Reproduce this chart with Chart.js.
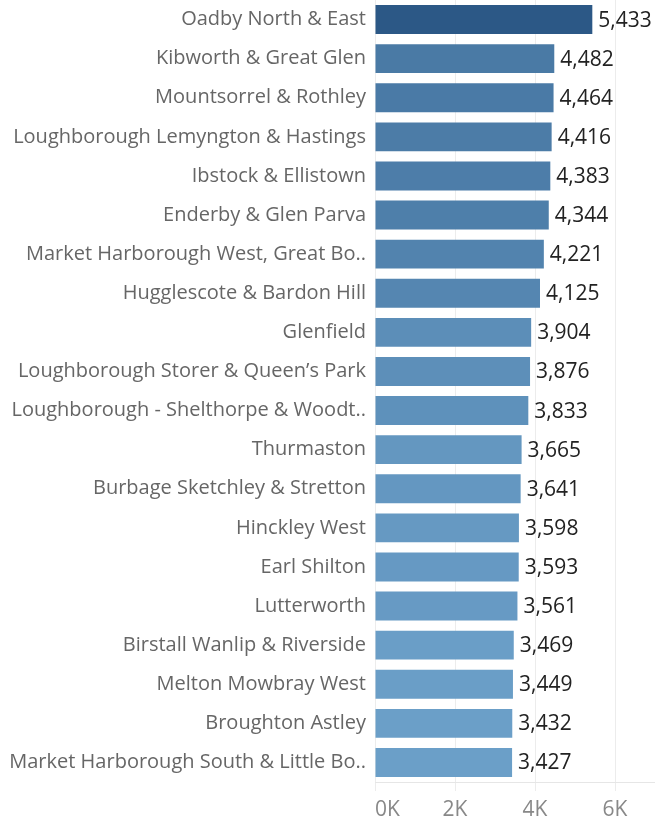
<!DOCTYPE html>
<html>
<head>
<meta charset="utf-8">
<script src="https://cdn.jsdelivr.net/npm/chart.js@4/dist/chart.umd.min.js"></script>
<style>
html,body{margin:0;padding:0;background:#fff;}
#wrap{width:655px;height:824px;}
</style>
</head>
<body>
<div id="wrap"><canvas id="c" width="655" height="824"></canvas></div>
<script>
const categories = [
  "Oadby North & East",
  "Kibworth & Great Glen",
  "Mountsorrel & Rothley",
  "Loughborough Lemyngton & Hastings",
  "Ibstock & Ellistown",
  "Enderby & Glen Parva",
  "Market Harborough West, Great Bo..",
  "Hugglescote & Bardon Hill",
  "Glenfield",
  "Loughborough Storer & Queen\u2019s Park",
  "Loughborough - Shelthorpe & Woodt..",
  "Thurmaston",
  "Burbage Sketchley & Stretton",
  "Hinckley West",
  "Earl Shilton",
  "Lutterworth",
  "Birstall Wanlip & Riverside",
  "Melton Mowbray West",
  "Broughton Astley",
  "Market Harborough South & Little Bo.."
];
const values = [5433, 4482, 4464, 4416, 4383, 4344, 4221, 4125, 3904, 3876, 3833, 3665, 3641, 3598, 3593, 3561, 3469, 3449, 3432, 3427];
const tickValues = [0, 2000, 4000, 6000];
const tickLabels = ["0K", "2K", "4K", "6K"];

const FONT = "'Open Sans', sans-serif";
const lo = [107, 159, 200], hi = [44, 88, 134];
const vmin = Math.min(...values), vmax = Math.max(...values);
function colorFor(v){
  const t = (v - vmin) / (vmax - vmin);
  const c = lo.map((a,i)=>Math.round(a + (hi[i]-a)*t));
  return `rgb(${c[0]},${c[1]},${c[2]})`;
}

const valueLabels = {
  id: 'valueLabels',
  afterDatasetsDraw(chart){
    const ctx = chart.ctx;
    const meta = chart.getDatasetMeta(0);
    ctx.save();
    ctx.font = "21px " + FONT;
    ctx.fillStyle = "#222";
    ctx.textAlign = "left";
    ctx.textBaseline = "middle";
    meta.data.forEach((bar, i) => {
      ctx.fillText(values[i].toLocaleString('en-US'), bar.x + 6, bar.y + 1);
    });
    ctx.restore();
  }
};

new Chart(document.getElementById('c'), {
  type: 'bar',
  data: {
    labels: categories,
    datasets: [{
      data: values,
      backgroundColor: values.map(colorFor),
      borderWidth: 0,
      categoryPercentage: 1.0,
      barPercentage: 0.74
    }]
  },
  options: {
    indexAxis: 'y',
    responsive: false,
    animation: false,
    layout: { padding: { top: -2, right: 0, bottom: 0, left: 0 } },
    plugins: { legend: { display: false }, tooltip: { enabled: false } },
    scales: {
      x: {
        type: 'linear',
        min: 0,
        max: 7000,
        afterFit(scale){ scale.height = 42; scale.paddingLeft = 0; scale.paddingRight = 0; },
        afterBuildTicks(scale){
          scale.ticks = tickValues.map(v => ({ value: v })).concat([{ value: 7000 }]);
        },
        grid: {
          color: (ctx) => (ctx.tick && ctx.tick.value === 7000) ? 'rgba(0,0,0,0)' : '#ececec',
          lineWidth: 1,
          drawTicks: true,
          tickLength: 9
        },
        border: { display: true, color: '#e6e6e6' },
        ticks: {
          align: 'inner',
          padding: 6,
          maxRotation: 0,
          autoSkip: false,
          color: '#888',
          font: { family: FONT, size: 21 },
          callback: (v) => { const i = tickValues.indexOf(v); return i >= 0 ? tickLabels[i] : ''; }
        }
      },
      y: {
        afterFit(scale){ scale.width = 375; scale.paddingTop = 0; scale.paddingBottom = 0; },
        grid: { display: false, drawTicks: false },
        border: { display: false },
        ticks: {
          padding: 9,
          autoSkip: false,
          color: '#666',
          font: { family: FONT, size: 20 },
          crossAlign: 'near'
        }
      }
    }
  },
  plugins: [valueLabels]
});
</script>
</body>
</html>
